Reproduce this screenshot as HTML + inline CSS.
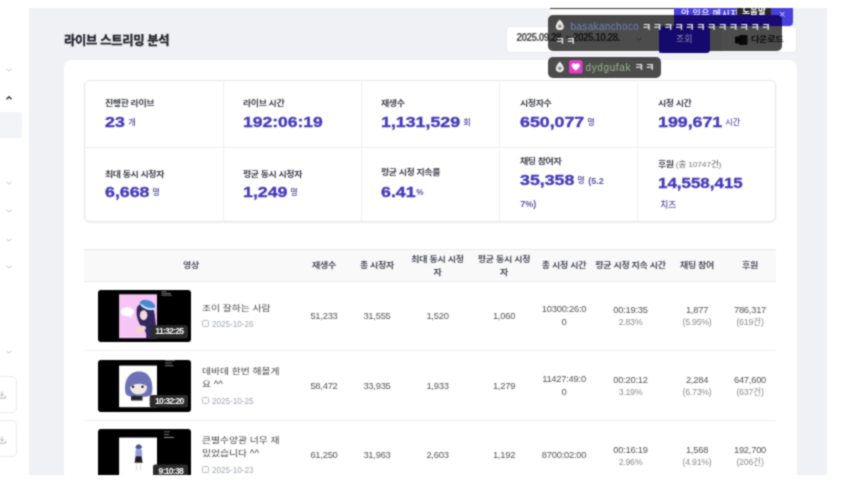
<!DOCTYPE html>
<html lang="ko">
<head>
<meta charset="utf-8">
<title>라이브 스트리밍 분석</title>
<style>
*{box-sizing:border-box;margin:0;padding:0}
html,body{width:862px;height:496px;background:#fff;overflow:hidden}
body{position:relative;font-family:"Liberation Sans","Noto Sans CJK KR","NanumGothic",sans-serif;color:#444;-webkit-font-smoothing:antialiased}
.abs{position:absolute}
#stage{position:absolute;left:0;top:0;width:862px;height:496px;overflow:hidden;background:#fff;filter:url(#bl)}
#page{position:absolute;left:29.2px;top:8px;width:797.6px;height:466.6px;background:#f0f1f4;overflow:hidden}
/* coordinates inside #page are offset by (-29.5,-8); use wrapper to keep absolute coords */
#abs0{position:absolute;left:-29.2px;top:-8px;width:862px;height:496px}
#card{position:absolute;left:64px;top:59.5px;width:733.2px;height:460px;background:#fff;border-radius:8px}
h1{position:absolute;left:64px;top:31.3px;font-size:12.3px;line-height:20px;font-weight:700;color:#1c1d26;-webkit-text-stroke:0.3px #1c1d26;white-space:nowrap;letter-spacing:-0.3px}
#stats{position:absolute;left:84px;top:80px;width:692px;height:142px;border:1px solid #e6e7eb;border-radius:6px;background:#fff;box-shadow:0 1px 2px rgba(0,0,0,.07)}
.vl{position:absolute;top:80px;width:1px;height:141px;background:#f0f0f3}
.hl{position:absolute;left:85px;top:147px;width:690px;height:1px;background:#f0f0f3}
.lb{position:absolute;font-size:9.3px;line-height:12px;font-weight:700;color:#3b3d4a;white-space:nowrap;letter-spacing:-0.45px;margin-top:0.2px;transform:scale(0.968,0.85);transform-origin:0 50%}
.lb small{font-weight:500;color:#777;font-size:8.8px;letter-spacing:-0.2px}
.nm{position:absolute;margin-top:0.1px;font-size:15.4px;line-height:18px;font-weight:700;color:#4338b8;white-space:nowrap;-webkit-text-stroke:0.35px #4338b8}
.nm b{display:inline-block;transform:scaleX(1.155);transform-origin:0 50%;font-weight:700}
.nm i{font-style:normal;font-size:8.5px;font-weight:400;color:#4f46b5;position:relative;top:-1px}
.un{position:absolute;font-size:8.2px;line-height:12px;color:#5a54a4;white-space:nowrap;font-weight:500;margin-left:0.2px;margin-top:0.3px}
/* table */
#thead{position:absolute;left:84px;top:249px;width:692px;height:32.5px;background:#f9f9fa;border-top:1px solid #ebebed;border-bottom:1px solid #ebebed}
.th{position:absolute;font-size:9px;line-height:14px;font-weight:700;color:#4a4c58;text-align:center;white-space:nowrap;transform:translate(-50%,-50%) scaleY(0.88);letter-spacing:-0.3px}
.td{position:absolute;font-size:9.4px;letter-spacing:-0.25px;line-height:12.4px;margin-top:-0.1px;color:#555;text-align:center;white-space:nowrap;transform:translate(-50%,-50%)}
.td span{color:#8e8e8e;font-size:8.8px}
.td.w{line-height:12.8px;margin-top:0.2px}
.rl{position:absolute;left:84px;width:692px;height:1px;background:#f0f0f3}
.thumb{position:absolute;left:97.8px;width:93.5px;height:52px;background:#000;border-radius:3px;overflow:hidden}
.thumb svg{position:absolute;left:0;top:0;display:block}
.thumb .du{position:absolute;right:3.5px;top:35.5px;width:37px;height:13px;color:#fff;font-size:8.6px;line-height:13px;font-weight:700;letter-spacing:-0.75px;text-align:center;white-space:nowrap}
.tt{position:absolute;left:202px;font-size:9.8px;line-height:15.06px;color:#444;white-space:nowrap;font-weight:400;transform:scaleY(0.85);transform-origin:0 0}
.dt{position:absolute;left:212px;font-size:9px;line-height:12px;color:#a4a8b4;white-space:nowrap;transform:scaleX(0.9);transform-origin:0 50%;margin-top:-0.4px}
.cal{position:absolute;left:202px;width:7px;height:7px;border:1px solid #b4b8c4;border-top-width:1.6px;border-radius:1.5px;margin-top:-0.6px}

/* sidebar */
.chev{position:absolute;left:6px;width:6px;height:4px}
.chev svg{display:block}
#sel{position:absolute;left:0;top:112px;width:22px;height:26px;background:#f3f4f7;border-radius:0 3px 3px 0}
.dl{position:absolute;left:-6px;width:23px;height:37px;border:1px solid #ececf0;border-radius:5px;background:#fff}
.dl svg{position:absolute;left:3.3px;top:14.5px}
/* controls */
#date{position:absolute;left:506px;top:26px;width:154px;height:26.5px;background:#fff;border:1px solid #ebebef;border-radius:4px 0 0 4px}
#date span{position:absolute;left:9.5px;top:5.3px;font-size:10px;line-height:12px;font-weight:700;color:#4a4a4a;white-space:nowrap;letter-spacing:-0.55px}
#btn1{position:absolute;left:659px;top:26px;width:50.5px;height:26.5px;background:#4f46e5;border-radius:0 4px 4px 0;color:#fff;font-size:9px;line-height:25.5px;text-align:center}
#btn2{position:absolute;left:720px;top:26px;width:76.5px;height:26.5px;background:#fff;border:1px solid #ebebef;border-radius:4px;color:#222;font-size:9px;line-height:24.5px;font-weight:700;white-space:nowrap;letter-spacing:-0.45px}
#btn2 span{position:absolute;left:30px;top:0;transform:scaleY(0.82);font-size:9.3px}
#btn2 svg{position:absolute;left:14px;top:6.5px}
/* overlays */
#toast{position:absolute;left:674px;top:0px;width:118.5px;height:17.5px;background:#4a40dc;border-radius:0 0 4px 0;color:#fff;font-size:9px;line-height:12px;white-space:nowrap}
#toast span{position:absolute;left:7px;top:0px;font-weight:500;letter-spacing:0.4px}
#toast i{position:absolute;left:105px;top:-1px;font-style:normal;font-size:11px;line-height:14px;color:#c9c5ff}
#help{position:absolute;left:737px;top:0;width:34px;height:8.5px;background:#262626;color:#fff;font-size:8.5px;line-height:10px;text-align:center;border-radius:0 0 2px 2px;font-weight:700;overflow:hidden}
#help span{position:relative;top:-2.2px}
#bar0{position:absolute;left:550px;top:0;width:124px;height:7px;background:#fbfbfc;border-top:1.5px solid #333;border-radius:0}
.bub{position:absolute;left:548px;background:rgba(0,0,0,.7);border-radius:5px}
.bt{position:absolute;left:548px;color:#fff;font-size:10px;line-height:14px;white-space:nowrap}
.bt .tx{position:absolute;white-space:nowrap}
.bt .kk{font-size:10px;font-weight:700;letter-spacing:1.64px;color:#e6e6e6}
.nv{position:absolute;background:#170b72}
#btn1t{position:absolute;left:659px;top:18.5px;width:50.5px;height:25.5px;color:#8a88b0;font-size:9px;line-height:25.5px;text-align:center}
</style>
</head>
<body>
<svg width="0" height="0" style="position:absolute"><defs><filter id="bl" x="0" y="0" width="100%" height="100%" color-interpolation-filters="sRGB"><feConvolveMatrix order="3" kernelMatrix="1 2 1 2 7 2 1 2 1" divisor="19" edgeMode="duplicate" preserveAlpha="true"/></filter></defs></svg>
<div id="stage">
<!-- sidebar -->
<div id="sel"></div>
<div class="chev" style="top:68px"><svg width="6" height="4" viewBox="0 0 6 4"><path d="M0.5 0.7 L3 3.2 L5.5 0.7" fill="none" stroke="#c4c6ce" stroke-width="1"/></svg></div>
<div class="chev" style="top:96px"><svg width="6" height="4" viewBox="0 0 6 4"><path d="M0.5 3.3 L3 0.8 L5.5 3.3" fill="none" stroke="#2a2a33" stroke-width="1.4"/></svg></div>
<div class="chev" style="top:181px"><svg width="6" height="4" viewBox="0 0 6 4"><path d="M0.5 0.7 L3 3.2 L5.5 0.7" fill="none" stroke="#c4c6ce" stroke-width="1"/></svg></div>
<div class="chev" style="top:209px"><svg width="6" height="4" viewBox="0 0 6 4"><path d="M0.5 0.7 L3 3.2 L5.5 0.7" fill="none" stroke="#c4c6ce" stroke-width="1"/></svg></div>
<div class="chev" style="top:237.5px"><svg width="6" height="4" viewBox="0 0 6 4"><path d="M0.5 0.7 L3 3.2 L5.5 0.7" fill="none" stroke="#c4c6ce" stroke-width="1"/></svg></div>
<div class="chev" style="top:264.8px"><svg width="6" height="4" viewBox="0 0 6 4"><path d="M0.5 0.7 L3 3.2 L5.5 0.7" fill="none" stroke="#c4c6ce" stroke-width="1"/></svg></div>
<div class="chev" style="top:350px"><svg width="6" height="4" viewBox="0 0 6 4"><path d="M0.5 0.7 L3 3.2 L5.5 0.7" fill="none" stroke="#c4c6ce" stroke-width="1"/></svg></div>
<div class="dl" style="top:375.5px"><svg width="8" height="8" viewBox="0 0 8 8"><path d="M4 0.5 V5 M2 3.2 L4 5.2 L6 3.2 M0.6 5 V7.2 H7.4 V5" fill="none" stroke="#b4b7c0" stroke-width="1"/></svg></div>
<div class="dl" style="top:420px"><svg width="8" height="8" viewBox="0 0 8 8"><path d="M4 0.5 V5 M2 3.2 L4 5.2 L6 3.2 M0.6 5 V7.2 H7.4 V5" fill="none" stroke="#b4b7c0" stroke-width="1"/></svg></div>

<div id="page"><div id="abs0">
  <h1>라이브 스트리밍 분석</h1>
  <div id="card"></div>
  <div id="stats"></div>
  <div class="vl" style="left:223px"></div>
  <div class="vl" style="left:361px"></div>
  <div class="vl" style="left:499px"></div>
  <div class="vl" style="left:637px"></div>
  <div class="hl"></div>

  <div class="lb" style="left:105px;top:97px">진행한 라이브</div>
  <div class="nm" style="left:105px;top:113px"><b>23</b></div>
  <div class="un" style="left:128px;top:117px">개</div>

  <div class="lb" style="left:243px;top:97px">라이브 시간</div>
  <div class="nm" style="left:243px;top:113px"><b style="transform:scaleX(1.138)">192:06:19</b></div>

  <div class="lb" style="left:381px;top:97px">재생수</div>
  <div class="nm" style="left:381px;top:113px"><b>1,131,529</b></div>
  <div class="un" style="left:463px;top:117px">회</div>

  <div class="lb" style="left:520px;top:97px">시청자수</div>
  <div class="nm" style="left:520px;top:113px"><b>650,077</b></div>
  <div class="un" style="left:587px;top:117px">명</div>

  <div class="lb" style="left:658px;top:97px">시청 시간</div>
  <div class="nm" style="left:658px;top:113px"><b>199,671</b></div>
  <div class="un" style="left:725px;top:117px">시간</div>

  <div class="lb" style="left:105px;top:168px">최대 동시 시청자</div>
  <div class="nm" style="left:105px;top:183px"><b>6,668</b></div>
  <div class="un" style="left:152px;top:187px">명</div>

  <div class="lb" style="left:243px;top:168px">평균 동시 시청자</div>
  <div class="nm" style="left:243px;top:183px"><b>1,249</b></div>
  <div class="un" style="left:290px;top:187px">명</div>

  <div class="lb" style="left:381px;top:166px">평균 시청 지속률</div>
  <div class="nm" style="left:381px;top:183px"><b>6.41</b></div>
  <div class="un" style="left:416px;top:187px;font-weight:700">%</div>

  <div class="lb" style="left:520px;top:155px">채팅 참여자</div>
  <div class="nm" style="left:520px;top:171px"><b>35,358</b></div>
  <div class="un" style="left:577px;top:175px">명</div>
  <div class="un" style="left:588px;top:175px;font-weight:700;font-size:9px">(5.2</div>
  <div class="un" style="left:520px;top:198px;font-weight:700;font-size:9px">7%)</div>

  <div class="lb" style="left:658px;top:158.2px">후원 <small>(총 10747건)</small></div>
  <div class="nm" style="left:658px;top:174px"><b style="transform:scaleX(1.10)">14,558,415</b></div>
  <div class="un" style="left:660px;top:198.6px;font-size:8.8px">치즈</div>


  <div id="date"><span>2025.09.28. ~ 2025.10.28.</span><svg style="position:absolute;left:129px;top:10px" width="6" height="4" viewBox="0 0 6 4"><path d="M0.5 0.7 L3 3.2 L5.5 0.7" fill="none" stroke="#999" stroke-width="1"/></svg></div>
  <div id="btn1"></div>
  <div id="btn2"><svg width="13" height="12" viewBox="0 0 13 12"><rect x="4" y="1" width="8.5" height="10" rx="1" fill="#222"/><rect x="0" y="2.5" width="8" height="7" rx="1" fill="#111"/></svg><span>다운로드</span></div>
  <div id="thead"></div>
  <div class="th" style="left:191px;top:264.6px">영상</div>
  <div class="th" style="left:324px;top:264.8px">재생수</div>
  <div class="th" style="left:377px;top:264.8px">총 시청자</div>
  <div class="th" style="left:437.5px;top:265.5px">최대 동시 시청<br>자</div>
  <div class="th" style="left:504px;top:265.5px">평균 동시 시청<br>자</div>
  <div class="th" style="left:564px;top:264.8px">총 시청 시간</div>
  <div class="th" style="left:630.5px;top:264.8px">평균 시청 지속 시간</div>
  <div class="th" style="left:697px;top:264.8px">채팅 참여</div>
  <div class="th" style="left:750px;top:264.8px">후원</div>

  <!-- row 1 -->
  <div class="thumb" style="top:289.8px"><svg width="93.5" height="52" viewBox="0 0 93.5 52">
<rect x="21.1" y="4.3" width="37.9" height="43.9" fill="#f7c5f5"/>
<ellipse cx="29.3" cy="21.8" rx="7" ry="4.8" fill="#fff" stroke="#d9c9d9" stroke-width="0.4"/>
<path d="M31 26 l3 2.2 l-1 -2.6z" fill="#fff"/>
<path d="M39 17.5 C41 12 52.5 12 55 18 C57.5 24 57 33 59 40 L59 48.2 L48 48.2 C49.5 42 46 40 43 36 C39.5 31 37.5 23 39 17.5Z" fill="#30285e"/>
<ellipse cx="45.6" cy="25.2" rx="3.8" ry="5" fill="#f3d9d8"/>
<path d="M37 41 C39 36 44 34 47.5 36.5 C49 38 47 41 44 42.5 C41 44 37.5 44 37 41Z" fill="#f1d3d0"/>
<ellipse cx="49.5" cy="14.6" rx="8" ry="4.4" fill="#4a88d6" transform="rotate(18 49.5 14.6)"/>
<path d="M42.5 15.5 C46 19.5 53 21.5 57 19.5 L57.3 17.6 C53 19 47 17.5 43.3 13.8Z" fill="#bfe3f4"/>
<g fill="#fff" opacity=".5"><rect x="63.5" y="1.2" width="5" height="0.9"/><rect x="63.5" y="3" width="9.5" height="0.9"/><rect x="63.5" y="4.8" width="10.5" height="0.9"/></g>
<rect x="52.9" y="35.2" width="37.1" height="13.2" rx="2.2" fill="#2b2b2b"/>
</svg><div class="du">11:32:25</div></div>
  <div class="tt" style="top:301.6px">조이 잘하는 사람</div>
  <div class="cal" style="top:321px"></div><div class="dt" style="top:318.5px">2025-10-26</div>
  <div class="td" style="left:324px;top:316px">51,233</div>
  <div class="td" style="left:377px;top:316px">31,555</div>
  <div class="td" style="left:437.5px;top:316px">1,520</div>
  <div class="td" style="left:504px;top:316px">1,060</div>
  <div class="td w" style="left:564px;top:316px">10300:26:0<br>0</div>
  <div class="td" style="left:630.5px;top:316px">00:19:35<br><span>2.83%</span></div>
  <div class="td" style="left:697px;top:316px">1,877<br><span>(5.95%)</span></div>
  <div class="td" style="left:750px;top:316px">786,317<br><span>(619건)</span></div>
  <div class="rl" style="top:350px"></div>

  <!-- row 2 -->
  <div class="thumb" style="top:359.8px"><svg width="93.5" height="52" viewBox="0 0 93.5 52">
<rect x="21.1" y="5.6" width="37.9" height="41.6" fill="#fff"/>
<path d="M27.5 33 C25.5 22 30 11.5 41 11.5 C52 11.5 55.5 22 54 33 C53 36.5 49 37 41 37 C33 37 28.5 36.5 27.5 33Z" fill="#6c72b4"/>
<path d="M32 26.5 C32 23.5 36 22.5 40 22.5 C45 22.5 49 23.5 49 27 C49 31.5 45.5 34.5 40.3 34.5 C35.5 34.5 32 31 32 26.5Z" fill="#f1e9e6"/>
<path d="M30.5 25 C33 19 48 19 51 25 L50 27 C46 22.5 36 22.5 32 27Z" fill="#6c72b4"/>
<circle cx="35" cy="26.7" r="1.3" fill="#23232b"/><circle cx="44.5" cy="26.7" r="1.3" fill="#23232b"/>
<path d="M33 37 C33 35.5 36 35.5 38.5 36 C41 36.5 44 35.3 44.5 37 L44.5 40.5 L33 40.5Z" fill="#25252b"/>
<g fill="#fff" opacity=".5"><rect x="67" y="0.3" width="10" height="0.8"/><rect x="67" y="2.6" width="7" height="0.9"/><rect x="67" y="5.2" width="8.5" height="1"/></g>
<rect x="51.7" y="34.9" width="38.3" height="12.6" rx="2.2" fill="#2b2b2b"/>
</svg><div class="du">10:32:20</div></div>
  <div class="tt" style="top:365.1px">데바데 한번 해볼게<br>요 ^^</div>
  <div class="cal" style="top:397.5px"></div><div class="dt" style="top:395px">2025-10-25</div>
  <div class="td" style="left:324px;top:386px">58,472</div>
  <div class="td" style="left:377px;top:386px">33,935</div>
  <div class="td" style="left:437.5px;top:386px">1,933</div>
  <div class="td" style="left:504px;top:386px">1,279</div>
  <div class="td w" style="left:564px;top:386px">11427:49:0<br>0</div>
  <div class="td" style="left:630.5px;top:386.1px">00:20:12<br><span>3.19%</span></div>
  <div class="td" style="left:697px;top:386.1px">2,284<br><span>(6.73%)</span></div>
  <div class="td" style="left:750px;top:386.1px">647,600<br><span>(637건)</span></div>
  <div class="rl" style="top:420px"></div>

  <!-- row 3 -->
  <div class="thumb" style="top:429px"><svg width="93.5" height="52" viewBox="0 0 93.5 51.5" style="top:0.5px">
<rect x="21.1" y="7.3" width="37.9" height="45" fill="#fff"/>
<ellipse cx="40.6" cy="16.8" rx="2.8" ry="2.6" fill="#5d6aa6"/>
<path d="M37.8 16.6 C39 13.6 42.5 13.8 43.6 16.2 L44.3 17.5 L37.2 17.8Z" fill="#4b568f"/>
<path d="M37.6 19.6 C39 18.6 42.4 18.6 43.8 19.8 L44.2 26 L37.4 26Z" fill="#8f9de2"/>
<path d="M37.6 26 L43.6 26 L44.6 32.4 L36.6 32.4Z" fill="#1b1b22"/>
<path d="M38.8 32.4 L38.3 40.4 M42.2 32.4 L42.6 40.4" stroke="#d9d2d6" stroke-width="0.9" fill="none"/>
<g fill="#fff" opacity=".5"><rect x="66" y="1.2" width="6" height="0.8"/><rect x="66" y="4" width="5" height="0.8"/><rect x="66" y="6.6" width="10" height="1.2"/></g>
<rect x="55" y="34.2" width="35" height="14" rx="2.2" fill="#2b2b2b"/>
</svg><div class="du" style="margin-right:-1.5px">9:10:38</div></div>
  <div class="tt" style="top:434.3px">큰별수양관 너무 재<br>밌었습니다 ^^</div>
  <div class="cal" style="top:467px"></div><div class="dt" style="top:464px">2025-10-23</div>
  <div class="td" style="left:324px;top:455.5px">61,250</div>
  <div class="td" style="left:377px;top:455.5px">31,963</div>
  <div class="td" style="left:437.5px;top:455.5px">2,603</div>
  <div class="td" style="left:504px;top:455.5px">1,192</div>
  <div class="td" style="left:564px;top:455.5px">8700:02:00</div>
  <div class="td" style="left:630.5px;top:455.9px">00:16:19<br><span>2.96%</span></div>
  <div class="td" style="left:697px;top:455.9px">1,568<br><span>(4.91%)</span></div>
  <div class="td" style="left:750px;top:455.9px">192,700<br><span>(206건)</span></div>
</div></div>

<!-- overlays -->
<div id="ov" style="position:absolute;left:0;top:8px;width:827px;height:100px;overflow:hidden">
  <div id="bar0"></div>
  <div id="toast"><span>안 읽은 메시지</span><i>×</i></div>
  <div id="help"><span>도움말</span></div>
  <div class="bub" style="top:7px;width:233.5px;height:36px"></div>
  <div class="nv" style="left:674px;top:7px;width:108px;height:10.5px;border-radius:0 5px 0 0"></div>
  <div class="nv" style="left:659px;top:18.5px;width:50.5px;height:26px;border-radius:0 0 4px 4px;background:#15096e"></div>
  <div id="btn1t">조회</div>
  <div class="bt" style="top:7px;width:233.5px;height:36px">
    <svg style="position:absolute;left:7.3px;top:3.5px" width="9.6" height="11.8" viewBox="0 0 9 11"><path d="M4.5 0.5 C6.5 2.5 8.3 5 8.3 7.3 C8.3 9.3 6.6 10.5 4.5 10.5 C2.4 10.5 0.7 9.3 0.7 7.3 C0.7 5 2.5 2.5 4.5 0.5Z" fill="#e8e8e8"/><circle cx="4.5" cy="6.8" r="1.6" fill="#888"/></svg>
    <div class="tx un1" style="left:22.5px;top:4.5px;color:#6f80b8;letter-spacing:0.35px">basakanchoco</div>
    <div class="tx kk" style="left:94px;top:5.5px">ㅋㅋㅋㅋㅋㅋㅋㅋㅋㅋㅋㅋ</div>
    <div class="tx kk" style="left:7.5px;top:19.5px">ㅋㅋ</div>
  </div>
  <div class="bub" style="top:48.5px;width:113px;height:21px"></div>
  <div class="bt" style="top:48.5px;width:113px;height:21px">
    <svg style="position:absolute;left:7.3px;top:4.3px" width="9.6" height="11.8" viewBox="0 0 9 11"><path d="M4.5 0.5 C6.5 2.5 8.3 5 8.3 7.3 C8.3 9.3 6.6 10.5 4.5 10.5 C2.4 10.5 0.7 9.3 0.7 7.3 C0.7 5 2.5 2.5 4.5 0.5Z" fill="#e8e8e8"/><circle cx="4.5" cy="6.8" r="1.6" fill="#888"/></svg>
    <svg style="position:absolute;left:21px;top:3.5px" width="13.5" height="13.5" viewBox="0 0 13 13"><rect width="13" height="13" rx="2.5" fill="#e63bc8"/><path d="M6.5 10.2 C4 8.3 2.6 7 2.6 5.3 C2.6 4.1 3.5 3.2 4.6 3.2 C5.4 3.2 6.1 3.6 6.5 4.3 C6.9 3.6 7.6 3.2 8.4 3.2 C9.5 3.2 10.4 4.1 10.4 5.3 C10.4 7 9 8.3 6.5 10.2Z" fill="#fff"/></svg>
    <div class="tx un1" style="left:37.5px;top:4px;color:#9db48c;letter-spacing:0.62px">dydgufak</div>
    <div class="tx kk" style="left:86.5px;top:4.5px">ㅋㅋ</div>
  </div>
</div>
</div>
</body>
</html>
